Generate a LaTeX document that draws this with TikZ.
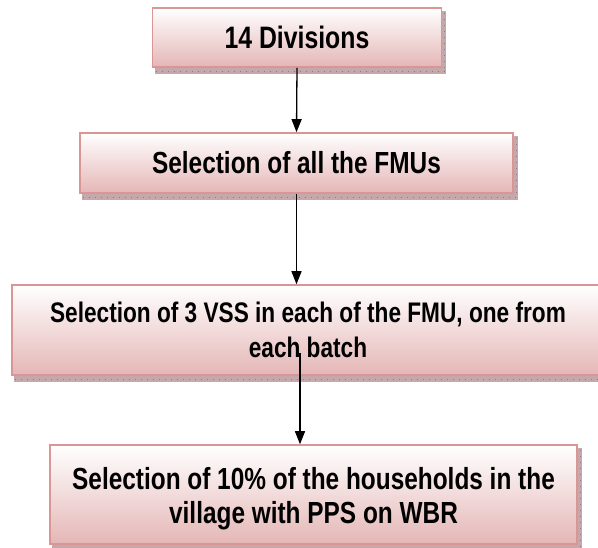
\documentclass[tikz,border=0pt]{standalone}
\usepackage{fontspec}
\setmainfont{Liberation Sans}[FakeStretch=0.8]
\usetikzlibrary{arrows.meta,backgrounds}
\definecolor{boxedge}{RGB}{217,150,148}
\definecolor{boxbot}{RGB}{229,182,182}
\definecolor{shadowc}{RGB}{196,168,172}
\definecolor{shadowd}{RGB}{150,118,122}
\tikzset{
  box/.style={draw=boxedge, line width=1.6pt, top color=white, bottom color=boxbot,
    inner sep=0pt, align=center, font=\bfseries},
  arr/.style={line width=1.3pt, -{Triangle[width=10pt,length=13pt]}},
  shad/.style={fill=shadowc},
  shadtex/.style={draw=shadowd, line width=0.8pt, dash pattern=on 1pt off 5pt}
}
\begin{document}
\begin{tikzpicture}[x=1pt,y=-1pt]
\useasboundingbox (0,0) rectangle (598,548);
\clip (0,0) rectangle (598,548);
\node[box, minimum width=289pt, minimum height=59pt, font=\bfseries\fontsize{31}{35}\selectfont] (b1) at (297,37.5) {14 Divisions};
\node[box, minimum width=433pt, minimum height=60pt, font=\bfseries\fontsize{30.5}{35}\selectfont] (b2) at (296.5,163) {Selection of all the FMUs};
\node[box, minimum width=592pt, minimum height=90pt, font=\bfseries\fontsize{28.3}{34.5}\selectfont] (b3) at (308,330) {Selection of 3 VSS in each of the FMU, one from\\each batch};
\node[box, minimum width=527pt, minimum height=99pt, font=\bfseries\fontsize{30.5}{34.5}\selectfont] (b4) at (313.5,494.5) {\rule{0pt}{30pt}Selection of 10\% of the households in the\\village with PPS on WBR};
\begin{scope}[on background layer]
  \foreach \b in {b1,b2,b3} {
    \fill[shad] ([xshift=3pt,yshift=-6pt]\b.south west) rectangle ([xshift=4pt,yshift=-4pt]\b.north east);
    \draw[shadtex] ([xshift=4pt,yshift=-3.5pt]\b.south west) -- ([xshift=4pt,yshift=-3.5pt]\b.south east);
    \draw[shadtex] ([xshift=2.5pt,yshift=-6pt]\b.north east) -- ([xshift=2.5pt,yshift=-3pt]\b.south east);
  }
  \fill[shad] ([xshift=3pt,yshift=-6pt]b4.south west) rectangle ([xshift=4pt,yshift=-4pt]b4.north east);
  \draw[shadtex] ([xshift=2.5pt,yshift=-6pt]b4.north east) -- ([xshift=2.5pt,yshift=-3pt]b4.south east);
\end{scope}
\coordinate (s3) at (300,353);
\draw[arr] (b1.south) -- (b2.north);
\draw[arr] (b2.south) -- (b2.south |- b3.north);
\draw[arr] (s3) -- (s3 |- b4.north);
\end{tikzpicture}
\end{document}
